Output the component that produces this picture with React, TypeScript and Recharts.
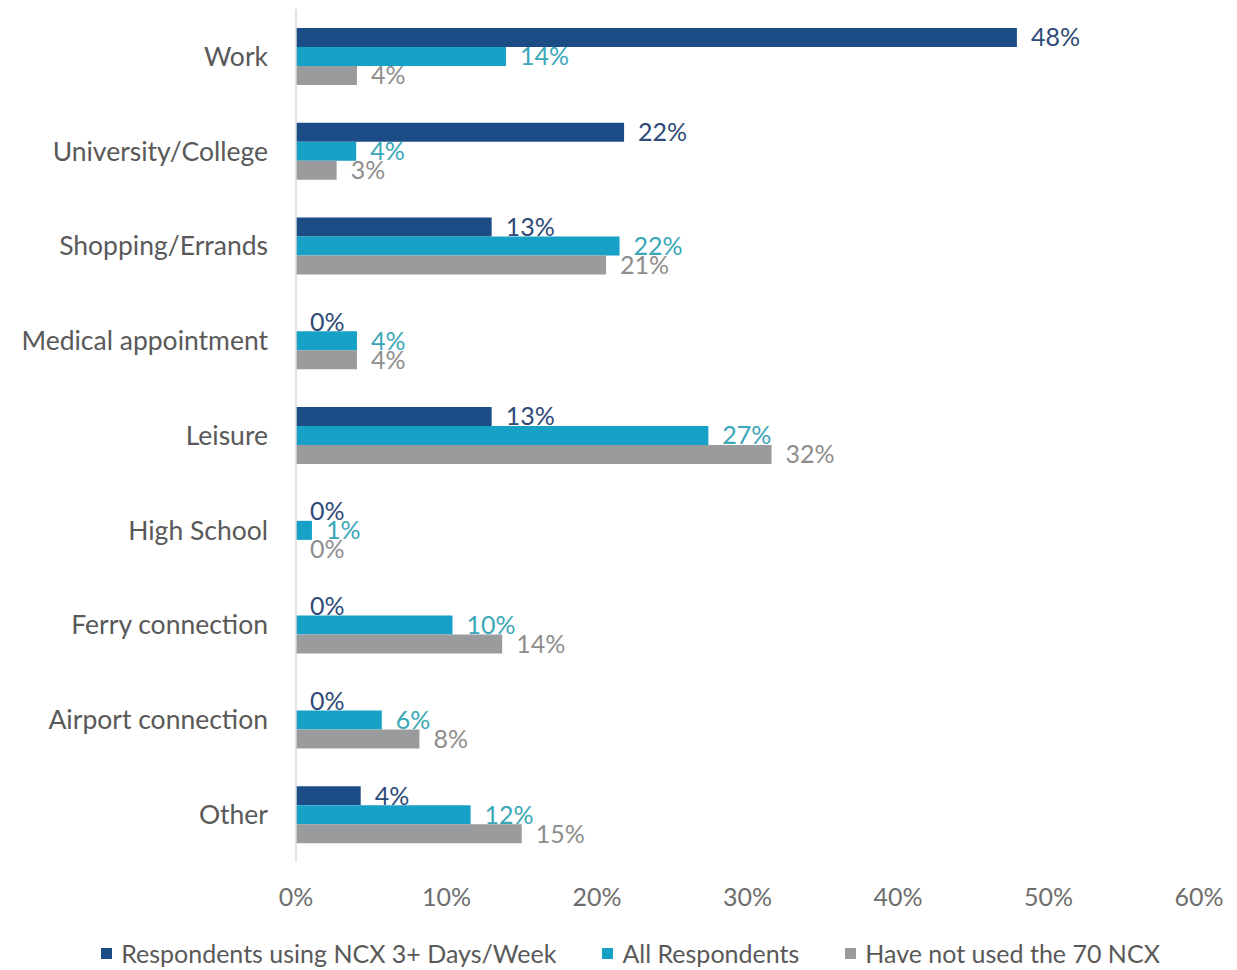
import React from 'react';
import { BarChart, Bar, XAxis, YAxis, LabelList, Legend } from 'recharts';

const categories = [
  'Work',
  'University/College',
  'Shopping/Errands',
  'Medical appointment',
  'Leisure',
  'High School',
  'Ferry connection',
  'Airport connection',
  'Other',
];
const frequentUsers = [47.9, 21.8, 13.0, 0, 13.0, 0, 0, 0, 4.3];
const allRespondents = [13.95, 4.0, 21.5, 4.05, 27.4, 1.06, 10.4, 5.7, 11.6];
const neverUsed = [4.05, 2.7, 20.6, 4.05, 31.6, 0, 13.7, 8.2, 15.0];
const xTicks = [0, 10, 20, 30, 40, 50, 60];
const seriesNames = [
  'Respondents using NCX 3+ Days/Week',
  'All Respondents',
  'Have not used the 70 NCX',
];

const barColors = ['#1B4C86', '#17A1C6', '#9A9B9D'];
const labelColors = ['#2E4A78', '#3AA7B8', '#8E8E8E'];
const keys = ['frequent', 'all', 'never'];

const data = categories.map((c, i) => ({
  category: c,
  frequent: frequentUsers[i],
  all: allRespondents[i],
  never: neverUsed[i],
}));

const fmt = (v: any) => `${Math.round(Number(v))}%`;

const LegendContent = () => (
  <div
    style={{
      width: 1237,
      display: 'flex',
      justifyContent: 'center',
      gap: 46,
      fontFamily: 'Lato',
      fontSize: 25,
      color: '#595959',
      paddingLeft: 24,
      boxSizing: 'border-box',
    }}
  >
    {seriesNames.map((n, i) => (
      <div key={n} style={{ display: 'flex', alignItems: 'center' }}>
        <span
          style={{
            display: 'inline-block',
            width: 11,
            height: 11,
            background: barColors[i],
            marginRight: 9,
          }}
        />
        <span>{n}</span>
      </div>
    ))}
  </div>
);

export default function App() {
  return (
    <div style={{ position: 'absolute', left: 0, top: 0, width: 1237, height: 970, background: '#fff', fontFamily: 'Lato' }}>
      <BarChart
        width={1237}
        height={970}
        data={data}
        layout="vertical"
        margin={{ top: 9, right: 38, bottom: 0, left: 0 }}
        barGap={0}
        barCategoryGap="20%"
      >
        <XAxis
          type="number"
          domain={[0, 60]}
          ticks={xTicks}
          tickFormatter={(v) => `${v}%`}
          axisLine={false}
          tickLine={false}
          tickSize={0}
          tickMargin={26}
          height={68}
          interval={0}
          tick={{ fill: '#6E6E6E', fontSize: 25, fontFamily: 'Lato' }}
        />
        <YAxis
          type="category"
          dataKey="category"
          width={296}
          axisLine={{ stroke: '#D9D9D9', strokeWidth: 1.5 }}
          tickLine={false}
          tickSize={0}
          tickMargin={28}
          interval={0}
          tick={{ fill: '#595959', fontSize: 26.5, fontFamily: 'Lato' }}
        />
        <Legend
          verticalAlign="bottom"
          height={40}
          content={<LegendContent />}
          wrapperStyle={{ left: 0, width: 1237, bottom: -8 }}
        />
        {keys.map((k, i) => (
          <Bar
            key={k}
            dataKey={k}
            name={seriesNames[i]}
            fill={barColors[i]}
            minPointSize={0.01}
            isAnimationActive={false}
          >
            <LabelList
              dataKey={k}
              position="right"
              offset={14}
              formatter={fmt}
              fill={labelColors[i]}
              style={{ fontSize: 25, fontFamily: 'Lato', fill: labelColors[i] }}
            />
          </Bar>
        ))}
      </BarChart>
    </div>
  );
}
